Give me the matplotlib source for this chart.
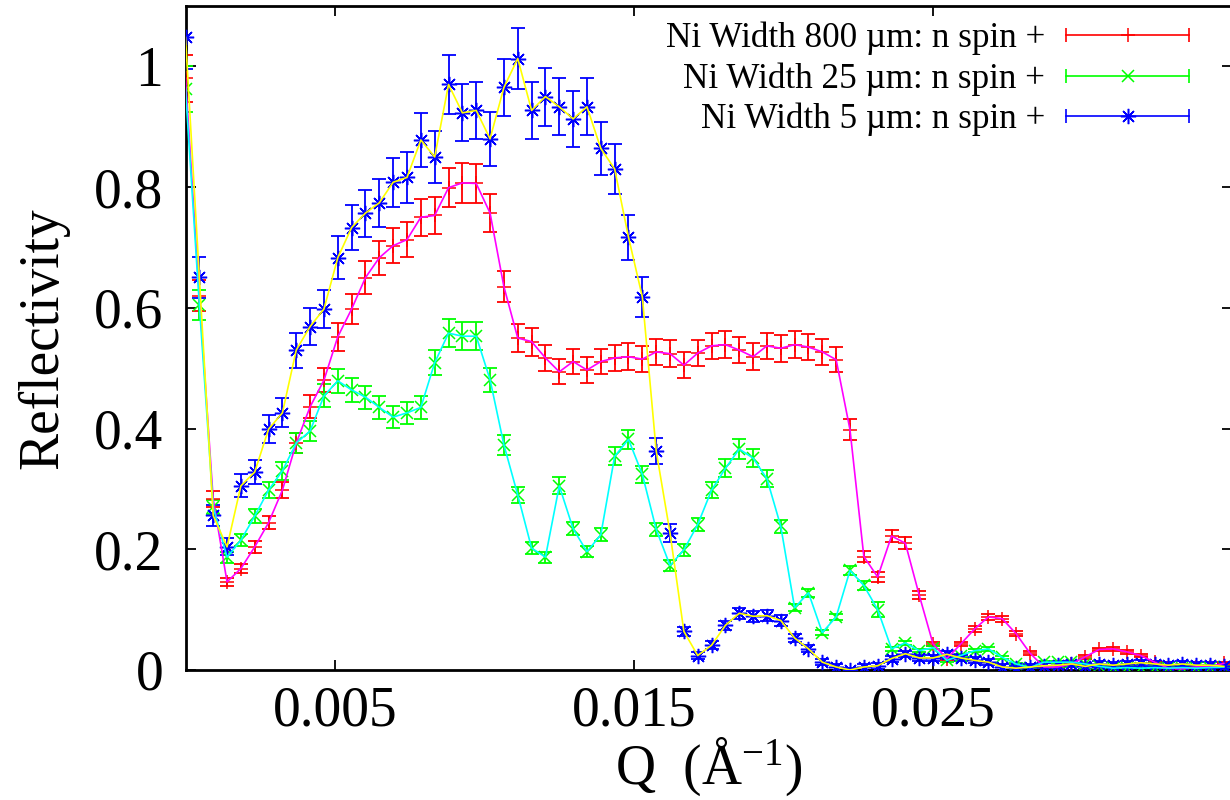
import numpy as np
import matplotlib
matplotlib.use("Agg")
import matplotlib.pyplot as plt
from matplotlib.lines import Line2D
from matplotlib.legend_handler import HandlerLine2D, HandlerTuple

plt.rcParams['font.family'] = ['Liberation Serif', 'DejaVu Serif']
plt.rcParams['mathtext.fontset'] = 'custom'
plt.rcParams['mathtext.rm'] = 'Liberation Serif'
plt.rcParams['mathtext.it'] = 'Liberation Serif:italic'

# --- data ---
dq = 0.000463
q = np.arange(76) * dq

r800 = [0.980, 0.620, 0.283, 0.146, 0.168, 0.204, 0.244, 0.298, 0.376, 0.436,
        0.480, 0.552, 0.598, 0.650, 0.683, 0.703, 0.713, 0.750, 0.753, 0.799,
        0.807, 0.806, 0.757, 0.635, 0.550, 0.544, 0.517, 0.494, 0.511, 0.497,
        0.511, 0.517, 0.519, 0.515, 0.527, 0.524, 0.505, 0.525, 0.537, 0.539,
        0.530, 0.519, 0.537, 0.533, 0.539, 0.535, 0.527, 0.514, 0.398, 0.188,
        0.154, 0.222, 0.210, 0.124, 0.043, 0.019, 0.043, 0.068, 0.088, 0.085,
        0.060, 0.028, 0.005, 0.005, 0.010, 0.022, 0.034, 0.035, 0.030, 0.024,
        0.013, 0.003, 0.002, 0.005, 0.005, 0.011]
e800 = [0.039, 0.026, 0.013, 0.007, 0.008, 0.010, 0.011, 0.013, 0.016, 0.019,
        0.020, 0.023, 0.025, 0.027, 0.028, 0.029, 0.029, 0.031, 0.031, 0.032,
        0.033, 0.033, 0.031, 0.026, 0.023, 0.023, 0.022, 0.021, 0.021, 0.021,
        0.021, 0.022, 0.022, 0.022, 0.022, 0.022, 0.021, 0.022, 0.022, 0.022,
        0.022, 0.022, 0.022, 0.022, 0.022, 0.022, 0.022, 0.021, 0.017, 0.009,
        0.008, 0.010, 0.010, 0.007, 0.004, 0.003, 0.004, 0.005, 0.005, 0.005,
        0.004, 0.003, 0.002, 0.002, 0.002, 0.003, 0.003, 0.003, 0.003, 0.003,
        0.002, 0.002, 0.002, 0.002, 0.002, 0.002]

r25 = [0.962, 0.605, 0.270, 0.187, 0.215, 0.255, 0.298, 0.330, 0.376, 0.396,
       0.454, 0.479, 0.464, 0.452, 0.435, 0.419, 0.426, 0.435, 0.509, 0.558,
       0.553, 0.553, 0.481, 0.373, 0.290, 0.202, 0.187, 0.305, 0.234, 0.196,
       0.224, 0.354, 0.382, 0.324, 0.233, 0.173, 0.199, 0.241, 0.298, 0.334,
       0.366, 0.351, 0.317, 0.238, 0.103, 0.128, 0.062, 0.088, 0.165, 0.140,
       0.100, 0.035, 0.045, 0.032, 0.037, 0.016, 0.024, 0.032, 0.035, 0.021,
       0.010, 0.004, 0.013, 0.013, 0.013, 0.010, 0.006, 0.003, 0.004, 0.003,
       0.004, 0.003, 0.004, 0.003, 0.004, 0.005]
e25 = [0.038, 0.025, 0.012, 0.009, 0.010, 0.012, 0.013, 0.015, 0.016, 0.017,
       0.019, 0.020, 0.020, 0.019, 0.019, 0.018, 0.018, 0.019, 0.021, 0.023,
       0.023, 0.023, 0.020, 0.016, 0.013, 0.010, 0.009, 0.014, 0.011, 0.009,
       0.011, 0.015, 0.016, 0.014, 0.011, 0.009, 0.010, 0.011, 0.013, 0.015,
       0.016, 0.015, 0.014, 0.011, 0.006, 0.007, 0.004, 0.005, 0.008, 0.007,
       0.012, 0.003, 0.003, 0.003, 0.003, 0.002, 0.002, 0.003, 0.003, 0.002,
       0.002, 0.002, 0.002, 0.002, 0.002, 0.002, 0.002, 0.002, 0.002, 0.002,
       0.002, 0.002, 0.002, 0.002, 0.002, 0.002]

r5 = [1.048, 0.651, 0.256, 0.204, 0.305, 0.328, 0.399, 0.426, 0.530, 0.569,
      0.598, 0.683, 0.733, 0.757, 0.774, 0.808, 0.816, 0.878, 0.850, 0.970,
      0.923, 0.927, 0.880, 0.965, 1.013, 0.927, 0.950, 0.933, 0.913, 0.933,
      0.864, 0.830, 0.717, 0.618, 0.363, 0.227, 0.064, 0.024, 0.041, 0.074,
      0.094, 0.089, 0.090, 0.082, 0.053, 0.035, 0.013, 0.005, 0.000, 0.005,
      0.007, 0.019, 0.027, 0.020, 0.020, 0.026, 0.020, 0.016, 0.013, 0.005,
      0.003, 0.005, 0.007, 0.008, 0.010, 0.006, 0.010, 0.008, 0.010, 0.012,
      0.010, 0.008, 0.010, 0.008, 0.008, 0.006]
e5 = [0.052, 0.034, 0.017, 0.014, 0.019, 0.020, 0.023, 0.024, 0.029, 0.031,
      0.032, 0.036, 0.038, 0.039, 0.040, 0.041, 0.042, 0.045, 0.043, 0.049,
      0.047, 0.047, 0.045, 0.048, 0.050, 0.047, 0.048, 0.047, 0.046, 0.047,
      0.044, 0.042, 0.037, 0.033, 0.021, 0.015, 0.008, 0.006, 0.007, 0.008,
      0.009, 0.009, 0.009, 0.009, 0.007, 0.006, 0.005, 0.005, 0.004, 0.005,
      0.005, 0.005, 0.005, 0.005, 0.005, 0.005, 0.005, 0.005, 0.005, 0.005,
      0.004, 0.005, 0.005, 0.005, 0.005, 0.005, 0.005, 0.005, 0.005, 0.005,
      0.005, 0.005, 0.005, 0.005, 0.005, 0.005]

labels = ['Ni Width 800 µm: n spin +', 'Ni Width 25 µm: n spin +', 'Ni Width 5 µm: n spin +']
xticks = [0.005, 0.015, 0.025]
yticks = [0, 0.2, 0.4, 0.6, 0.8, 1.0]
ytick_labels = ['0', '0.2', '0.4', '0.6', '0.8', '1']

series = [
    (r800, e800, '#ff0000', '#ff00ff', '+', 10),
    (r25, e25, '#00ff00', '#00ffff', 'x', 8),
    (r5, e5, '#0000ff', '#ffff00', (8, 2, 0), 11),
]

fig = plt.figure(figsize=(12.3, 8), dpi=100)
ax = fig.add_axes([185.5 / 1230, 130 / 800, 1046.5 / 1230, 664 / 800])

handles = []
hmap = {tuple: HandlerTuple(ndivide=1)}
for y, e, c, lc, m, ms in series:
    ax.errorbar(q, y, yerr=e, fmt='none', ecolor=c, elinewidth=1.3,
                capsize=4.7, capthick=1.3, zorder=2)
    ax.plot(q, y, linestyle='none', marker=m, color=c, ms=ms, mew=1.1, zorder=3)
    ax.plot(q, y, color=lc, lw=1.2, zorder=4)
    cap = Line2D([], [], color=c, lw=1.2, marker='|', ms=9.5, mew=1.2)
    mid = Line2D([], [], color=c, linestyle='none', marker=m, ms=ms, mew=1.1)
    hmap[cap] = HandlerLine2D(numpoints=2, marker_pad=0)
    handles.append((cap, mid))

ax.set_xlim(0, 0.035)
ax.set_ylim(0, 1.1)
ax.set_xticks(xticks)
ax.set_xticklabels(['0.005', '0.015', '0.025'])
ax.set_yticks(yticks)
ax.set_yticklabels(ytick_labels)
ax.tick_params(direction='in', length=7, width=1.3, top=True, right=True,
               labelsize=40)
ax.tick_params(axis='x', pad=11)
ax.tick_params(axis='y', pad=16)
for s in ax.spines.values():
    s.set_linewidth(2)

ax.set_xlabel(r'Q  (Å$^{-1}$)', fontsize=40, labelpad=-1)
ax.set_ylabel('Reflectivity', fontsize=40, labelpad=18)

leg = ax.legend(handles, labels, handler_map=hmap, loc='upper right',
                bbox_to_anchor=(0.959, 0.976), frameon=False, markerfirst=False,
                numpoints=1, fontsize=25.3, handlelength=3.5, handletextpad=0.6,
                labelspacing=0.2, borderpad=0, borderaxespad=0)

fig.savefig('out.png', dpi=100)
